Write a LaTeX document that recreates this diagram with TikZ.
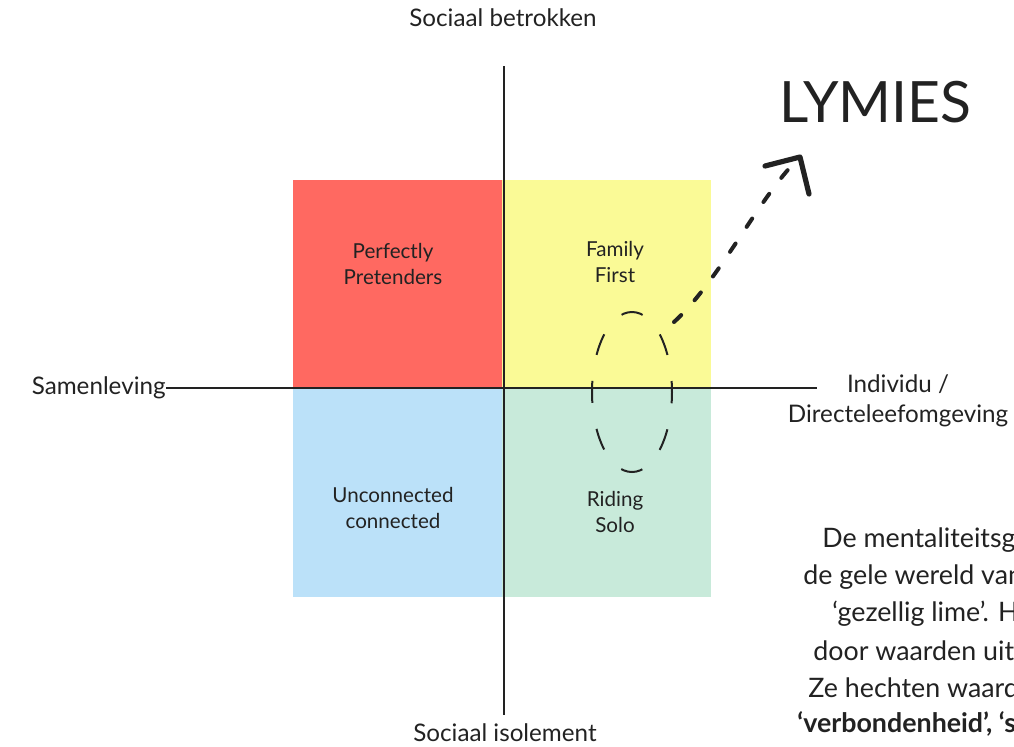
\documentclass[tikz,border=0pt]{standalone}
\usepackage{fontspec}
\setmainfont{Lato}
\usetikzlibrary{shapes.geometric}
\definecolor{qred}{HTML}{FF6961}
\definecolor{qyellow}{HTML}{FAFA96}
\definecolor{qblue}{HTML}{BBE1F9}
\definecolor{qgreen}{HTML}{C8EADA}
\definecolor{ink}{HTML}{222222}
\begin{document}
\begin{tikzpicture}[x=0.5pt, y=-0.5pt,
    quad/.style={minimum width=104.5pt, minimum height=104.5pt, inner sep=0pt,
                 anchor=north west},
    qtext/.style={align=center, font=\fontsize{10.3}{12.8}\selectfont, text=ink},
    axlabel/.style={align=center, font=\fontsize{12.1}{15}\selectfont, text=ink},
    axis/.style={draw=ink, line width=1.2pt},
    para/.style={anchor=west, font=\fontsize{13.4}{14}\selectfont, text=ink, inner sep=0pt},
    arr/.style={draw=ink, line width=2pt, line cap=round, dash pattern=on 5pt off 10pt}
]
\useasboundingbox (0,0) rectangle (1014,746);
\clip (0,0) rectangle (1014,746);
% quadrants
\node[quad, fill=qred]    (pp) at (293,180) {};
\node[quad, fill=qyellow] (ff) at (502,180) {};
\node[quad, fill=qblue]   (uc) at (293,388) {};
\node[quad, fill=qgreen]  (rs) at (502,388) {};
\node[qtext] at (393,264) {Perfectly\\Pretenders};
\node[qtext] at (615,262) {Family\\First};
\node[qtext] at (393,508) {Unconnected\\connected};
\node[qtext] at (615,512) {Riding\\Solo};
% axes
\node[axlabel] (top) at (503,18)  {Sociaal betrokken};
\node[axlabel] (bot) at (505,733) {Sociaal isolement};
\node[axlabel, anchor=east, inner sep=0pt] (sam) at (166,388) {Samenleving};
\node[axlabel] (ind) at (898,401) {Individu /\\Directeleefomgeving};
\coordinate (ytop) at (504,66);
\coordinate (ybot) at (504,715);
\coordinate (xend) at (817,388);
\draw[axis] (ytop) -- (ybot);
\draw[axis] (sam.east) -- (xend);
% lymies
\node[ellipse, draw=ink, line width=1pt, dash pattern=on 11pt off 13.2pt, dash phase=5.5pt,
      minimum width=40pt, minimum height=80pt, inner sep=0pt] (ell) at (632,392) {};
\node[anchor=west, font=\fontsize{28.5}{30}\selectfont, text=ink, inner sep=0pt] (lym) at (779,102) {LYMIES};
\coordinate (tip) at (800,157);
\coordinate (hl) at (765,166);
\coordinate (hr) at (809,194);
\draw[arr] (674,322) .. controls (720,280) and (760,195) .. (tip);
\draw[ink, line width=2.6pt, line cap=round, line join=round] (hl) -- (tip) -- (hr);
% text right
\node[para] (p1) at (822,540) {De mentaliteitsgroep};
\node[para] (p2) at (803,577) {de gele wereld van};
\node[para] (p3) at (832,614) {‘gezellig lime’. Hun};
\node[para] (p4) at (813,651) {door waarden uit};
\node[para] (p5) at (808,688) {Ze hechten waarde};
\node[para] (p6) at (797,724) {\textbf{‘verbondenheid’, ‘samen’}};
\end{tikzpicture}
\end{document}
